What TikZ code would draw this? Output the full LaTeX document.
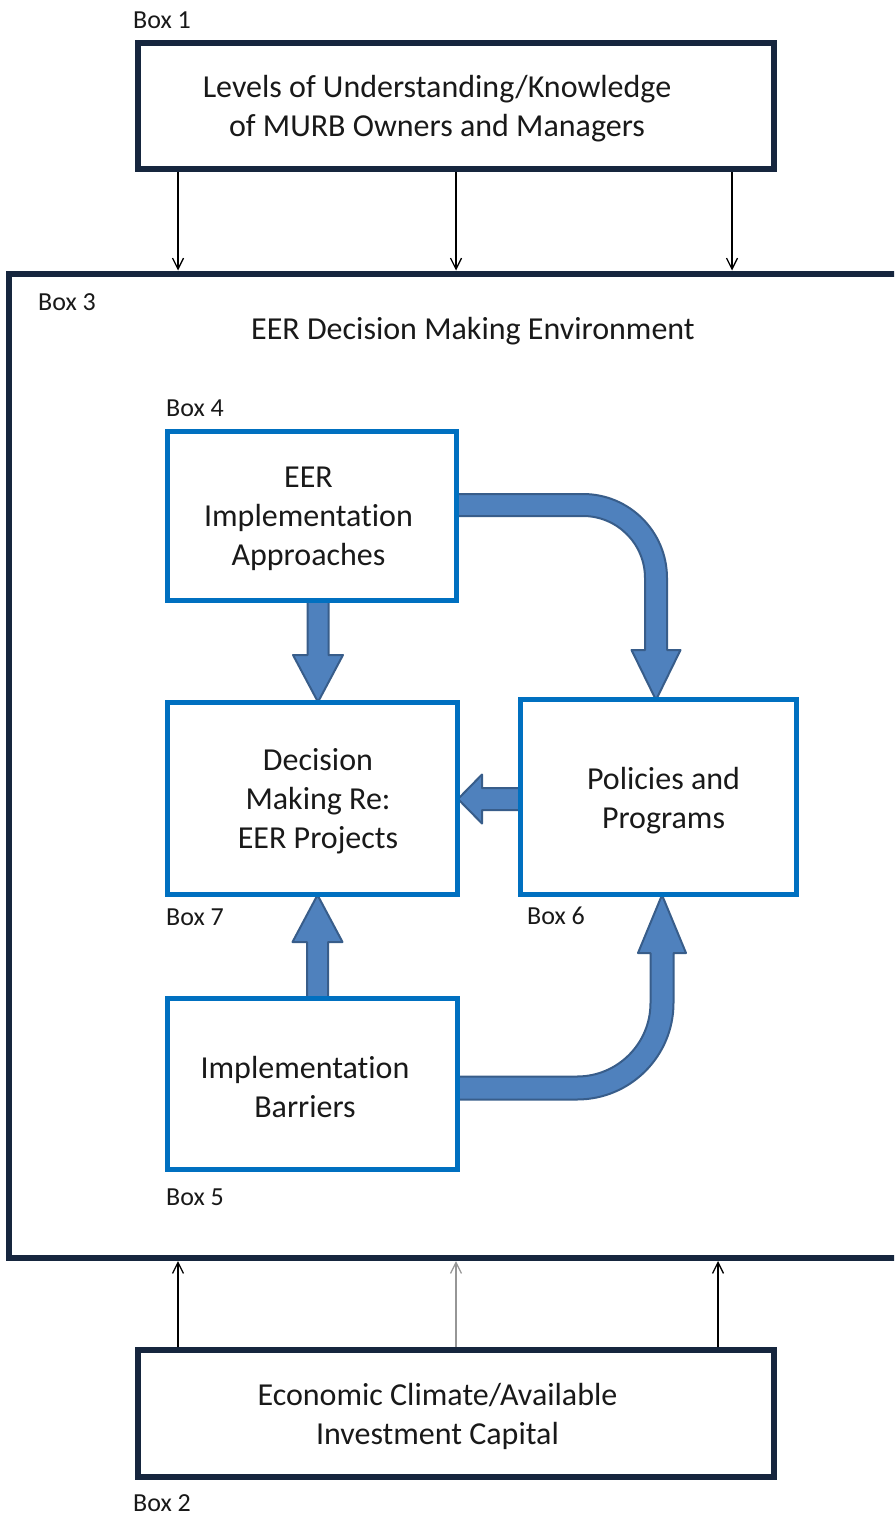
\documentclass[tikz,border=0pt]{standalone}
\usepackage{fontspec}
\setmainfont{Carlito}[Ligatures=NoCommon]
\usetikzlibrary{arrows.meta,calc}
\definecolor{navy}{RGB}{22,38,62}
\definecolor{boxblue}{RGB}{0,112,192}
\definecolor{arrowfill}{RGB}{79,129,189}
\definecolor{arrowedge}{RGB}{56,93,138}
\definecolor{greyline}{RGB}{150,150,150}
\pgfdeclarelayer{background}
\pgfsetlayers{background,main}

\begin{document}
\begin{tikzpicture}[x=1pt,y=-1pt,
  outerbox/.style={draw=navy,line width=6pt,inner sep=0pt,rectangle},
  innerbox/.style={draw=boxblue,line width=5pt,inner sep=0pt,rectangle},
  boxtext/.style={align=center,font=\fontsize{32}{39}\selectfont,inner sep=0pt,text=black!90},
  boxlabel/.style={anchor=west,font=\fontsize{26}{30}\selectfont,inner sep=0pt,text=black!90},
  thinarrow/.style={-{Straight Barb[length=11pt,width=11pt]},line width=1.3pt},
  blockarrow/.style={fill=arrowfill,draw=arrowedge,line width=2pt,line join=round}]

\useasboundingbox (0,0) rectangle (894,1517);
\clip (0,0) rectangle (894,1517);

% outer frames
\node[outerbox,minimum width=636pt,minimum height=126pt] (box1) at (456,106) {};
\node[outerbox,minimum width=636pt,minimum height=127pt] (box2) at (456,1413.5) {};
\node[outerbox,minimum width=901.5pt,minimum height=984.5pt] (box3) at (459.25,765.75) {};

% inner boxes
\node[innerbox,minimum width=289pt,minimum height=169pt] (box4) at (311.5,515.5) {};
\node[innerbox,minimum width=290pt,minimum height=192pt] (box7) at (312,798) {};
\node[innerbox,minimum width=276pt,minimum height=195pt] (box6) at (658,796.5) {};
\node[innerbox,minimum width=290pt,minimum height=171pt] (box5) at (312,1083.5) {};

% box texts
\node[boxtext] (t1) at (437,109) {Levels of Understanding/Knowledge\\of MURB Owners and Managers};
\node[boxtext] (t3) at (473,331) {EER Decision Making Environment};
\node[boxtext] (t4) at (308.5,518.5) {EER\\Implementation\\Approaches};
\node[boxtext] (t7) at (318,801) {Decision\\Making Re:\\EER Projects};
\node[boxtext] (t6) at (663.5,801) {Policies and\\Programs};
\node[boxtext] (t5) at (305,1086.5) {Implementation\\Barriers};
\node[boxtext] (t2) at (437.5,1416) {Economic Climate/Available\\Investment Capital};

% box labels
\node[boxlabel] (l1) at (133,20) {Box 1};
\node[boxlabel] (l3) at (38,302) {Box 3};
\node[boxlabel] (l4) at (166,408) {Box 4};
\node[boxlabel] (l7) at (166,917) {Box 7};
\node[boxlabel] (l6) at (527,916) {Box 6};
\node[boxlabel] (l5) at (166,1197) {Box 5};
\node[boxlabel] (l2) at (133,1503) {Box 2};

% thin influence arrows into the decision environment
\coordinate (a1) at ([xshift=-278pt]box1.south);
\coordinate (a2) at (box1.south);
\coordinate (a3) at ([xshift=276pt]box1.south);
\draw[thinarrow] (a1) -- (a1 |- box3.north);
\draw[thinarrow] (a2) -- (a2 |- box3.north);
\draw[thinarrow] (a3) -- (a3 |- box3.north);

\coordinate (b1) at ([xshift=-278pt]box2.north);
\coordinate (b2) at (box2.north);
\coordinate (b3) at ([xshift=262pt]box2.north);
\draw[thinarrow] (b1) -- (b1 |- box3.south);
\draw[thinarrow,draw=greyline] (b2) -- (b2 |- box3.south);
\draw[thinarrow] (b3) -- (b3 |- box3.south);

% block arrows between the inner boxes
\begin{pgfonlayer}{background}
% box 4 -> box 7
\draw[blockarrow] ($(box4.south)+(6.5,-3)$) ++(-10.5,0) -- ++(0,55.5) -- ++(-14.5,0)
  -- ++(25,47) -- ++(25,-47) -- ++(-14.5,0) -- ++(0,-55.5) -- cycle;
% box 5 -> box 7
\draw[blockarrow] ($(box5.north)+(5.5,3)$) ++(-10.5,0) -- ++(0,-56.5) -- ++(-14.5,0)
  -- ++(25,-47) -- ++(25,47) -- ++(-14.5,0) -- ++(0,56.5) -- cycle;
% box 6 -> box 7
\draw[blockarrow] ($(box6.west)+(3,2.5)$) ++(0,-11) -- ++(-38.5,0) -- ++(0,-13.5)
  -- ++(-24,24.5) -- ++(24,24.5) -- ++(0,-13.5) -- ++(38.5,0) -- cycle;
% box 4 -> box 6 (bent)
\draw[blockarrow] ($(box4.east)+(-3,-10.5)$) ++(0,-11) -- ++(127.5,0)
  .. controls +(46.4,0) and +(0,-46.4) .. ++(84,84)
  -- ++(0,72) -- ++(13.5,0) -- ++(-24.5,50) -- ++(-24.5,-50) -- ++(13.5,0)
  -- ++(0,-72) .. controls +(0,-34.2) and +(34.2,0) .. ++(-62,-62)
  -- ++(-127.5,0) -- cycle;
% box 5 -> box 6 (bent)
\draw[blockarrow] ($(box5.east)+(-3,4.5)$) ++(0,11.5) -- ++(120.5,0)
  .. controls +(53.3,0) and +(0,53.3) .. ++(96.5,-96.5)
  -- ++(0,-50) -- ++(12.5,0) -- ++(-24,-58) -- ++(-24,58) -- ++(12.5,0)
  -- ++(0,50) .. controls +(0,40.6) and +(40.6,0) .. ++(-73.5,73.5)
  -- ++(-120.5,0) -- cycle;
\end{pgfonlayer}
\end{tikzpicture}
\end{document}
